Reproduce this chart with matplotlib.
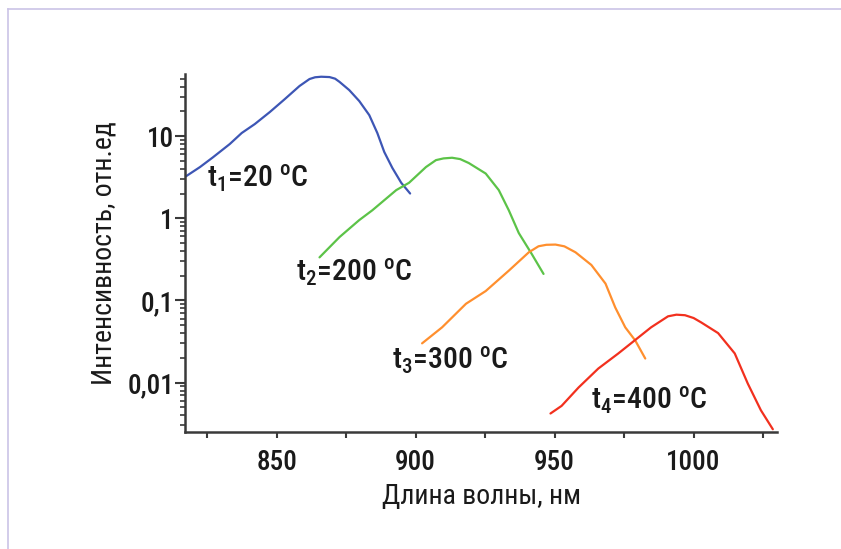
import matplotlib
matplotlib.use("Agg")
import matplotlib.pyplot as plt
import matplotlib.ticker as ticker
from matplotlib.lines import Line2D

plt.rcParams['font.family'] = ['Roboto Condensed', 'DejaVu Sans']
plt.rcParams['font.weight'] = 'medium'
plt.rcParams['mathtext.fontset'] = 'custom'
plt.rcParams['mathtext.rm'] = 'Roboto Condensed:medium'
plt.rcParams['mathtext.it'] = 'Roboto Condensed:medium'

# спектры при разных температурах (длина волны, нм / интенсивность, отн.ед)
wl_20 = [817.4, 822.4, 827.0, 833.1, 837.4, 842.1, 847.5, 852.8, 858.2, 861.8, 863.8, 866.0,
         869.0, 871.0, 872.6, 876.1, 879.7, 883.3, 886.2, 888.7, 891.6, 894.8, 898.0]
int_20 = [3.25, 4.2, 5.5, 8.0, 10.9, 14.0, 19.6, 28, 40.7, 49.5, 52.0, 52.8,
          52.3, 50.0, 45.7, 36.3, 26.7, 18, 10.9, 6.4, 4.1, 2.7, 2.0]

wl_200 = [865.4, 872.6, 879.7, 884.4, 893.0, 897.6, 903.7, 907.3, 910.0, 913.1, 916.0, 919.1,
          925.2, 929.9, 933.5, 937.1, 941.7, 946.0]
int_200 = [0.334, 0.59, 0.95, 1.25, 2.2, 2.7, 4.2, 5.1, 5.35, 5.45, 5.25, 4.7,
           3.5, 2.2, 1.25, 0.66, 0.37, 0.21]

wl_300 = [902.3, 909.5, 918.1, 925.2, 933.5, 940.7, 944.2, 947.0, 950.3, 953.5, 957.5, 963.2,
          968.3, 971.8, 975.4, 979.0, 982.6]
int_300 = [0.030, 0.047, 0.091, 0.13, 0.23, 0.385, 0.456, 0.475, 0.478, 0.455, 0.385, 0.27,
           0.16, 0.082, 0.047, 0.0325, 0.0196]

wl_400 = [948.5, 952.5, 958.6, 965.7, 972.9, 979.0, 984.7, 990.8, 993.8, 996.9, 1000.0,
          1002.7, 1008.8, 1014.8, 1019.5, 1024.2, 1028.5]
int_400 = [0.0042, 0.0052, 0.0087, 0.0148, 0.0226, 0.033, 0.047, 0.064, 0.067, 0.066, 0.061,
           0.054, 0.040, 0.0226, 0.0097, 0.0046, 0.0027]

labels = [r"t$_1$=20 $^{\rm o}$C", r"t$_2$=200 $^{\rm o}$C",
          r"t$_3$=300 $^{\rm o}$C", r"t$_4$=400 $^{\rm o}$C"]
label_pos = [(824.9, 3.08), (857.1, 0.22), (891.5, 0.0186), (963.2, 0.006)]
colors = ['#3d56b5', '#5cc348', '#ff8f2e', '#f2301e']

fig = plt.figure(figsize=(8.41, 5.49), dpi=100)
fig.patch.set_facecolor('white')

# светло-фиолетовая рамка сверху и слева
frame_c = '#cbc3e6'
fig.add_artist(Line2D([8 / 841, 1], [1 - 9 / 549, 1 - 9 / 549], color=frame_c, lw=1.2))
fig.add_artist(Line2D([8 / 841, 8 / 841], [0, 1 - 9 / 549], color=frame_c, lw=1.2))

ax = fig.add_axes([185 / 841, 1 - 432 / 549, (777 - 185) / 841, (432 - 74) / 549])

series = [(wl_20, int_20), (wl_200, int_200), (wl_300, int_300), (wl_400, int_400)]
for (x, y), c in zip(series, colors):
    ax.plot(x, y, color=c, lw=1.6, solid_capstyle='round', solid_joinstyle='round')

for txt, (x, y) in zip(labels, label_pos):
    ax.text(x, y, txt, fontsize=21.5, ha='left', va='center', color='#1a1a1a')

ax.set_yscale('log')
ax.set_xlim(817, 1030)
ax.set_ylim(0.0025, 57)

ax.xaxis.set_major_locator(ticker.MultipleLocator(50))
ax.xaxis.set_minor_locator(ticker.MultipleLocator(25))
ax.yaxis.set_major_locator(ticker.FixedLocator([0.01, 0.1, 1, 10]))
ax.yaxis.set_major_formatter(ticker.FixedFormatter(['0,01', '0,1', '1', '10']))
ax.yaxis.set_minor_locator(ticker.LogLocator(base=10, subs=range(2, 10), numticks=20))
ax.yaxis.set_minor_formatter(ticker.NullFormatter())

for s in ['top', 'right']:
    ax.spines[s].set_visible(False)
for s in ['left', 'bottom']:
    ax.spines[s].set_color('#3a3a3a')
    ax.spines[s].set_linewidth(1.8)

ax.tick_params(axis='both', which='both', colors='#3a3a3a', labelcolor='#1a1a1a', labelsize=19.5)
ax.tick_params(axis='y', which='major', length=7, width=1.5, pad=1)
ax.tick_params(axis='y', which='minor', length=3.5, width=1.2)
ax.tick_params(axis='x', which='both', length=4, width=1.5, pad=8)

ax.set_xlabel("Длина волны, нм", fontsize=20, color='#1a1a1a', labelpad=5)
ax.set_ylabel("Интенсивность, отн.ед", fontsize=20, color='#1a1a1a', labelpad=7)

fig.savefig("out.png", dpi=100)
